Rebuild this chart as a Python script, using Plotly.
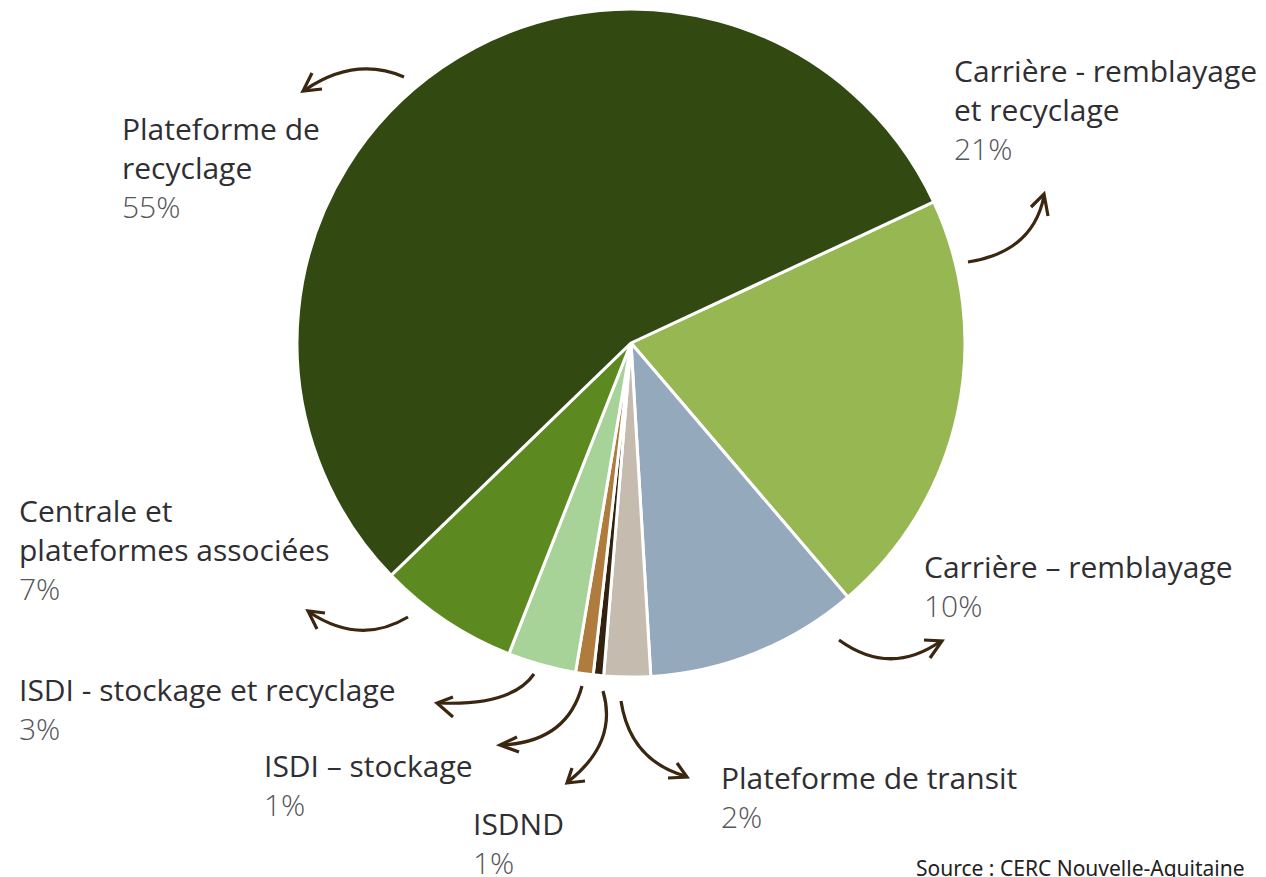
import plotly.graph_objects as go

# Data
categories = [
    "Carrière - remblayage et recyclage",
    "Carrière – remblayage",
    "Plateforme de transit",
    "ISDND",
    "ISDI – stockage",
    "ISDI - stockage et recyclage",
    "Centrale et plateformes associées",
    "Plateforme de recyclage",
]
values = [20.7, 10.3, 2.25, 0.5, 0.85, 3.3, 6.8, 55.3]
pct_labels = ["21%", "10%", "2%", "1%", "1%", "3%", "7%", "55%"]
label_lines = [
    ["Carrière - remblayage", "et recyclage"],
    ["Carrière – remblayage"],
    ["Plateforme de transit"],
    ["ISDND"],
    ["ISDI – stockage"],
    ["ISDI - stockage et recyclage"],
    ["Centrale et", "plateformes associées"],
    ["Plateforme de", "recyclage"],
]
colors = ["#97b752", "#94a9bc", "#c5bcaf", "#33220f", "#b07c3e", "#a7d399", "#5c8a21", "#324a12"]

W, H = 1266, 877
cx, cy, R = 631, 343, 334

fig = go.Figure()
fig.add_trace(go.Pie(
    labels=categories, values=values, sort=False, direction="clockwise",
    rotation=65, marker=dict(colors=colors, line=dict(color="white", width=3)),
    textinfo="none", hoverinfo="label+percent", showlegend=False,
    domain=dict(x=[(cx - R) / W, (cx + R) / W], y=[1 - (cy + R) / H, 1 - (cy - R) / H]),
))

# label anchor positions (left x, first-line center y) in pixel space
label_pos = [
    (952, 70), (922, 566), (719, 777), (471, 823), (262, 765), (17, 689), (17, 510), (120, 128),
]
line_h = 39
annotations = []
for lines, pct, (lx, ly) in zip(label_lines, pct_labels, label_pos):
    for i, t in enumerate(lines):
        annotations.append(dict(x=lx, y=ly + i * line_h, xref="x", yref="y", text=t,
                                showarrow=False, xanchor="left", yanchor="middle",
                                font=dict(family="Open Sans", size=30, color="#2f2f33")))
    annotations.append(dict(x=lx, y=ly + len(lines) * line_h, xref="x", yref="y", text=pct,
                            showarrow=False, xanchor="left", yanchor="middle",
                            font=dict(family="Open Sans", size=30, color="#55555a", weight=300)))
annotations.append(dict(x=914, y=868, xref="x", yref="y", text="Source : CERC Nouvelle-Aquitaine",
                        showarrow=False, xanchor="left", yanchor="middle",
                        font=dict(family="Noto Sans", size=21, color="#222222")))

# curved arrows (pixel coordinates): curve path and arrowhead chevron
arrows = [
    ("M404,77 Q355,56 305,90", "M312,73 L303,91 L322,89"),
    ("M968,262 Q1033,252 1044,196", "M1031,207 L1044,194 L1048,216"),
    ("M839,640 Q890,677 941,641", "M924,640 L942,641 L930,658"),
    ("M408,617 Q360,646 309,612", "M325,613 L308,611 L317,629"),
    ("M534,674 Q512,706 439,703", "M453,697 L437,703 L453,717"),
    ("M582,686 Q567,742 502,745", "M517,737 L500,745 L519,752"),
    ("M603,691 Q618,742 569,781", "M572,768 L567,783 L585,781"),
    ("M621,701 Q630,760 685,776", "M677,763 L687,777 L668,778"),
]
shapes = []
for curve, head in arrows:
    for p in (curve, head):
        shapes.append(dict(type="path", path=p, xref="x", yref="y",
                           line=dict(color="#3b2610", width=3.2), layer="above"))

fig.update_layout(
    width=W, height=H, margin=dict(l=0, r=0, t=0, b=0),
    paper_bgcolor="white", plot_bgcolor="rgba(0,0,0,0)",
    xaxis=dict(range=[0, W], visible=False, fixedrange=True, domain=[0, 1]),
    yaxis=dict(range=[H, 0], visible=False, fixedrange=True, domain=[0, 1]),
    annotations=annotations, shapes=shapes, showlegend=False,
)

fig.write_html("out.html", config={"displayModeBar": False},
               post_script="document.body.style.margin='0';document.body.style.overflow='hidden';")
